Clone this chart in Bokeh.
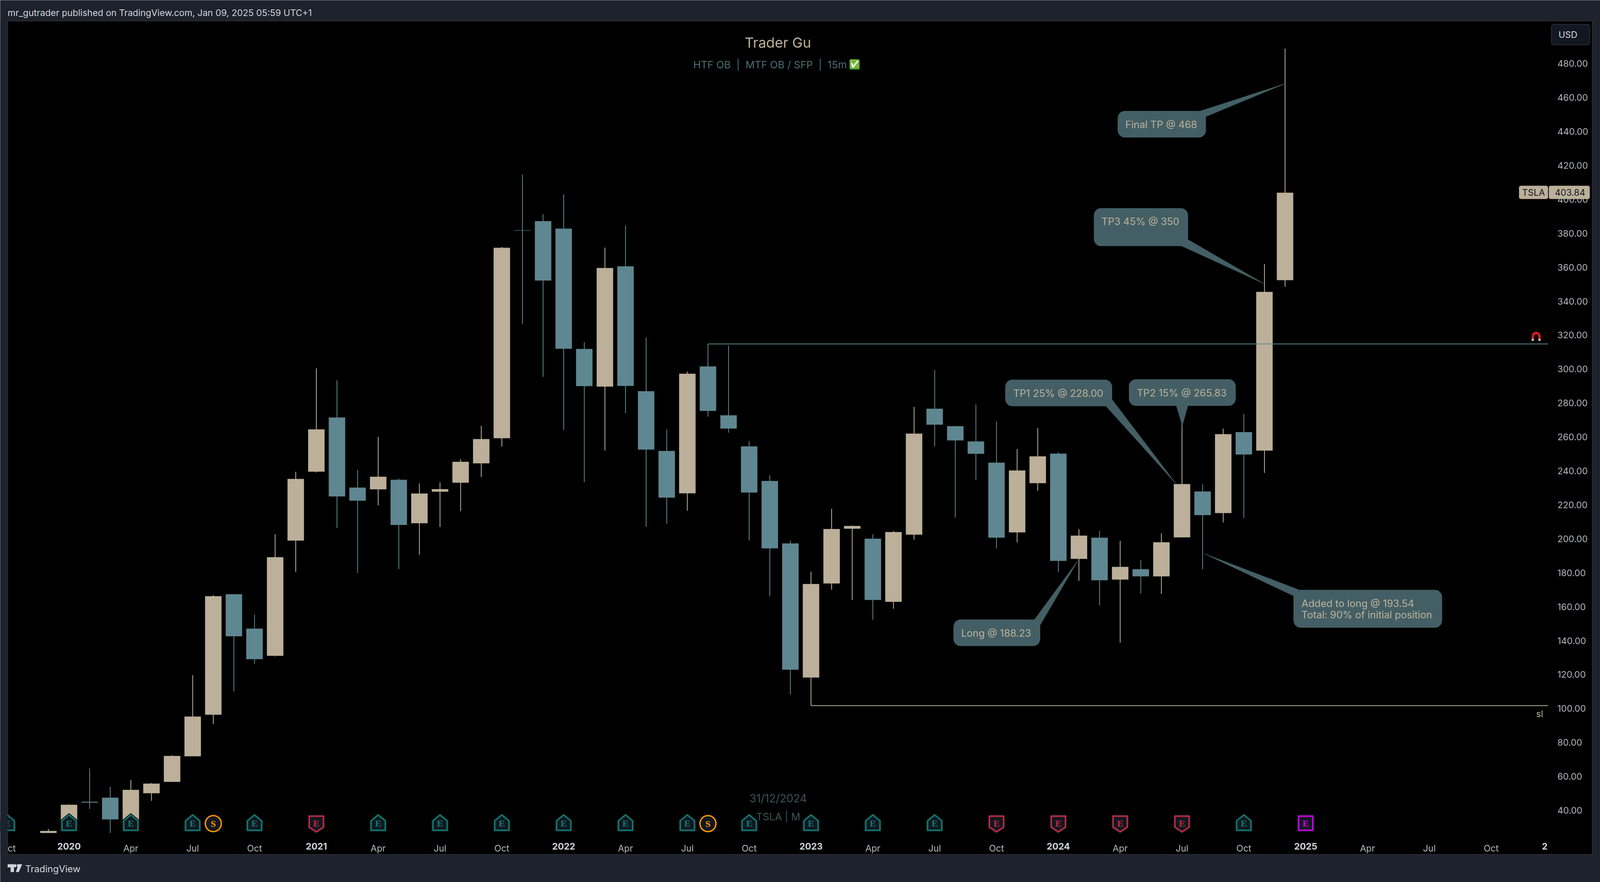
import math
from bokeh.plotting import figure
from bokeh.embed import file_html
from bokeh.resources import INLINE
from bokeh.models import Range1d, LinearAxis, FixedTicker, NumeralTickFormatter, Label, ColumnDataSource

# ---------- data (monthly TSLA, index 0 = Jan 2020) ----------
month_index = list(range(-1, 60))
opens = [26.7, 28.3, 45.0, 47.4, 33.4, 50.1, 56.8, 71.9, 96.4, 167.3, 147.0, 131.1, 199.0,
         239.6, 271.4, 230.1, 229.2, 234.7, 209.2, 227.8, 233.1, 244.5, 259.3, 381.7, 387.1,
         382.7, 311.8, 289.7, 360.5, 286.9, 251.7, 226.8, 301.5, 272.7, 254.4, 234.0, 197.2,
         118.3, 173.7, 206.0, 200.0, 162.9, 202.5, 276.6, 266.3, 257.3, 244.8, 203.8, 232.8,
         250.1, 188.2, 200.6, 176.0, 182.0, 177.9, 200.9, 227.8, 215.2, 262.8, 252.0, 352.4]
closes = [27.8, 43.2, 44.6, 34.7, 52.0, 55.7, 72.0, 95.2, 166.1, 142.6, 129.1, 189.1, 235.2,
          264.4, 225.0, 222.5, 236.5, 208.2, 226.6, 229.2, 245.3, 258.7, 371.4, 381.6, 352.2,
          312.0, 290.0, 359.5, 290.1, 252.6, 224.3, 297.2, 275.4, 265.0, 227.3, 194.4, 122.9,
          173.3, 205.7, 207.5, 164.0, 203.9, 261.9, 267.3, 258.0, 250.1, 200.7, 240.2, 248.5,
          187.0, 201.8, 175.6, 183.4, 177.9, 197.9, 232.2, 214.0, 261.6, 249.7, 345.4, 403.84]
highs = [29.0, 43.5, 64.7, 53.8, 58.0, 56.1, 72.5, 119.6, 166.8, 167.5, 155.3, 202.7, 239.5,
         300.4, 293.4, 240.5, 260.0, 235.4, 232.6, 233.3, 246.9, 266.5, 371.9, 414.7, 391.2,
         402.9, 315.9, 371.6, 384.6, 318.6, 264.4, 298.5, 314.7, 313.9, 257.5, 237.4, 199.0,
         180.6, 217.7, 207.8, 202.7, 204.6, 277.7, 299.4, 266.5, 279.1, 269.0, 252.9, 265.3,
         251.1, 205.7, 204.6, 198.8, 187.5, 203.2, 271.1, 232.0, 264.9, 273.6, 361.9, 488.8]
lows = [26.7, 28.1, 40.8, 26.7, 33.4, 45.6, 56.8, 71.9, 90.9, 110.1, 126.3, 130.7, 180.4,
        239.1, 206.4, 179.9, 219.7, 182.2, 190.5, 206.9, 216.3, 236.4, 254.4, 326.5, 295.4,
        264.1, 233.4, 252.0, 274.0, 207.1, 208.9, 216.5, 272.0, 262.5, 199.0, 166.2, 108.2,
        101.7, 170.0, 163.9, 152.3, 158.8, 199.5, 254.4, 212.4, 234.8, 194.3, 197.9, 228.3,
        180.3, 175.2, 160.7, 138.8, 167.7, 167.5, 200.9, 182.1, 209.6, 212.2, 238.8, 348.5]

price_ticks = [40, 60, 80, 100, 120, 140, 160, 180, 200, 220, 240, 260, 280, 300, 320, 340,
               360, 380, 400, 420, 440, 460, 480]
month_ticks = [-2.78, 3, 6, 9, 15, 18, 21, 27, 30, 33, 39, 42, 45, 51, 54, 57, 63, 66, 69]
month_labels = ["ct", "Apr", "Jul", "Oct", "Apr", "Jul", "Oct", "Apr", "Jul", "Oct", "Apr", "Jul",
                "Oct", "Apr", "Jul", "Oct", "Apr", "Jul", "Oct"]
year_ticks = [0, 12, 24, 36, 48, 60, 71.6]
year_labels = ["2020", "2021", "2022", "2023", "2024", "2025", "2"]

earn_green = [-3, 0, 3, 6, 9, 15, 18, 21, 24, 27, 30, 33, 36, 39, 42, 57]
earn_red = [12, 45, 48, 51, 54]
earn_next = [60]
split_bars = [7, 31]

level_high = 314.8
level_high_start = 31
level_sl = 101.7
level_sl_start = 36

# ---------- colours ----------
TAN = "#bcb09a"
TEAL = "#5f8791"
BUBBLE = "#435f65"
PANEL = "#1e222d"
GREY = "#b2b5be"
LIGHT = "#d1d4dc"
DARK = "#131722"
DIM = "#4b6d75"
DIM2 = "#3d5258"
GREEN = "#0b806f"
RED = "#c52b3e"
ORANGE = "#ff9800"
MAGENTA = "#d400f2"
FONT = "Inter"

# ---------- reference-pixel helpers (placement of annotations only) ----------
X0, XS = 184.8, 55.34
Y0, YS = 2074.0, 4.345


def X(px):
    return (px - X0) / XS


def Y(py):
    return 40 + (Y0 - py) / YS


def XP(i):
    return X0 + XS * i


def rounded(l, t, r, b, rad, n=6):
    pts = []
    for cx, cy, a0 in [(r - rad, t + rad, -90), (r - rad, b - rad, 0), (l + rad, b - rad, 90), (l + rad, t + rad, 180)]:
        for k in range(n + 1):
            a = math.radians(a0 + 90 * k / n)
            pts.append((cx + rad * math.cos(a), cy + rad * math.sin(a)))
    return pts


def to_data(pts):
    return [X(p[0]) for p in pts], [Y(p[1]) for p in pts]


PAGE_W, PAGE_H = 4096, 2258
p = figure(width=PAGE_W, height=PAGE_H, output_backend="svg", toolbar_location=None,
           x_range=Range1d(X(0), X(4296)), y_range=Range1d(Y(2258), Y(0)),
           x_axis_location=None, y_axis_location=None,
           min_border_left=0, min_border_right=0, min_border_top=0, min_border_bottom=0,
           background_fill_color=PANEL, border_fill_color=PANEL, outline_line_color=None)
p.grid.visible = False

# pane
p.quad(left=[X(20)], right=[X(4275)], top=[Y(53)], bottom=[Y(2187)], fill_color="#000000",
       line_color="#2a2e39", line_width=2, level="underlay")

# ---------- axes ----------
yaxis = LinearAxis(fixed_location=X(4156), ticker=FixedTicker(ticks=price_ticks),
                   formatter=NumeralTickFormatter(format="0.00"), axis_line_color=None,
                   major_tick_line_color=None, minor_tick_line_color=None,
                   major_label_standoff=18, major_label_text_color=GREY,
                   major_label_text_font=FONT, major_label_text_font_size="23px")
p.add_layout(yaxis, "right")

for ticks, labels, style, col in [(month_ticks, month_labels, "normal", GREY), (year_ticks, year_labels, "bold", LIGHT)]:
    ax = LinearAxis(fixed_location=Y(2147), ticker=FixedTicker(ticks=ticks),
                    major_label_overrides={t: s for t, s in zip(ticks, labels)},
                    axis_line_color=None, major_tick_line_color=None, minor_tick_line_color=None,
                    major_label_standoff=4, major_label_text_color=col, major_label_text_font=FONT,
                    major_label_text_font_style=style, major_label_text_font_size="23px")
    p.add_layout(ax, "below")

# ---------- candles ----------
colors = [TAN if c >= o else TEAL for o, c in zip(opens, closes)]
src = ColumnDataSource(dict(x=month_index, o=opens, c=closes, h=highs, l=lows, col=colors,
                            top=[max(a, b) for a, b in zip(opens, closes)],
                            bot=[min(a, b) for a, b in zip(opens, closes)]))
p.segment("x", "l", "x", "h", source=src, line_color="col", line_width=2)
p.vbar("x", 0.79, "bot", "top", source=src, fill_color="col", line_color="col", line_width=0.5)

# ---------- levels ----------
pane_right = X(4156)
p.line([level_high_start, pane_right], [level_high, level_high], line_color=TEAL, line_width=2)
p.line([level_sl_start, pane_right], [level_sl, level_sl], line_color=TAN, line_width=2)

# ---------- callouts ----------
# box (l, t, r, b), tail (a, b, tip), texts (left, centre y, string)
callouts = [
    ((3001, 284, 3237, 351), [(3222, 284), (3449, 214), (3237, 298)], [(3021, 317.5, "Final TP @ 468")]),
    ((2937, 533, 3189, 629), [(3189, 613), (3392, 725), (3172, 629)], [(2957, 566, "TP3 45% @ 350")]),
    ((2699, 972, 2985, 1039), [(2985, 1022), (3158, 1239), (2969, 1039)], [(2720, 1005.5, "TP1 25% @ 228.00")]),
    ((3031, 971, 3317, 1038), [(3158, 1038), (3174, 1089), (3189, 1038)], [(3052, 1004.5, "TP2 15% @ 265.83")]),
    ((2560, 1586, 2792, 1653), [(2777, 1586), (2894, 1434), (2792, 1600)], [(2580, 1619.5, "Long @ 188.23")]),
    ((3473, 1510, 3871, 1606), [(3488, 1510), (3233, 1417), (3473, 1525)],
     [(3494, 1544, "Added to long @ 193.54"), (3494, 1572.5, "Total: 90% of initial position")]),
]
for box, tail, texts in callouts:
    bx, by = to_data(rounded(*box, 18))
    tx, ty = to_data(tail)
    p.patches([bx, tx], [by, ty], fill_color=BUBBLE, line_color=BUBBLE, line_width=1, level="annotation")
    for tl, tc, s in texts:
        p.add_layout(Label(x=X(tl), y=Y(tc), text=s, text_color=TAN, text_font=FONT, text_font_size="25.5px",
                           text_baseline="middle", text_align="left", level="annotation"))

# ---------- earnings / split badges ----------
up_shape = [(-19, 2125), (-19, 2101), (0, 2086), (19, 2101), (19, 2125)]
down_shape = [(-19, 2089), (19, 2089), (19, 2117), (0, 2129), (-19, 2117)]
rect_shape = [(-19, 2089), (19, 2089), (19, 2125), (-19, 2125)]


def badges(indices, shape, color, letter="E"):
    xs = [[X(XP(i) + d[0]) for d in shape] for i in indices]
    ys = [[Y(d[1]) for d in shape] for i in indices]
    p.patches(xs, ys, fill_color=DARK, line_color=DARK, line_width=8, line_join="round")
    p.patches(xs, ys, fill_color=DARK, line_color=color, line_width=3.5, line_join="round")
    p.text(indices, [Y(2107)] * len(indices), text=[letter] * len(indices), text_color=color,
           text_font=FONT, text_font_style="bold", text_font_size="24px",
           text_align="center", text_baseline="middle")


badges(earn_green, up_shape, GREEN)
badges(earn_red, down_shape, RED)
badges(earn_next, rect_shape, MAGENTA)
p.scatter(split_bars, [Y(2108)] * 2, marker="circle", size=41, fill_color=DARK, line_color=ORANGE, line_width=3.5)
p.text(split_bars, [Y(2108)] * 2, text=["S", "S"], text_color=ORANGE, text_font=FONT, text_font_style="bold",
       text_font_size="24px", text_align="center", text_baseline="middle")

# left strip hides what spills over the pane edge
p.quad(left=[X(0)], right=[X(19)], top=[Y(53)], bottom=[Y(2187)], fill_color=PANEL, line_color=None)

# ---------- last price tag ----------
for box in [(4078, 475, 4156, 509), (4158, 475, 4268, 509)]:
    bx, by = to_data(rounded(*box, 5))
    p.patch(bx, by, fill_color=TAN, line_color=None, level="overlay")
p.add_layout(Label(x=X(4117), y=Y(492), text="TSLA", text_color=DARK, text_font=FONT, text_font_size="23px",
                   text_align="center", text_baseline="middle", level="overlay"))
p.add_layout(Label(x=X(4215), y=Y(492), text="403.84", text_color=DARK, text_font=FONT, text_font_size="23px",
                   text_align="center", text_baseline="middle", level="overlay"))

# USD button
bx, by = to_data(rounded(4165, 62, 4268, 114, 7))
p.patch(bx, by, fill_color=DARK, line_color="#2a2e39", line_width=2, level="overlay")
p.add_layout(Label(x=X(4184), y=Y(88), text="USD", text_color=LIGHT, text_font=FONT, text_font_size="23px",
                   text_align="left", text_baseline="middle", level="overlay"))

# magnet
pts = []
for k in range(0, 19):
    a = math.radians(180 + k * 10)
    pts.append((4124 + 12 * math.cos(a), 861 + 12 * math.sin(a)))
pts += [(4136, 872), (4130, 872)]
for k in range(18, -1, -1):
    a = math.radians(180 + k * 10)
    pts.append((4124 + 6 * math.cos(a), 861 + 6 * math.sin(a)))
pts += [(4118, 872), (4112, 872)]
mx, my = to_data(pts)
p.patch(mx, my, fill_color="#dc2020", line_color=None)
for l in (4112, 4130):
    tx, ty = to_data([(l, 867), (l + 6, 867), (l + 6, 872), (l, 872)])
    p.patch(tx, ty, fill_color="#c8c8c8", line_color=None)

# ---------- texts ----------
def label(px, py, s, color, size, align="left", style="normal", weight_font=FONT):
    p.add_layout(Label(x=X(px), y=Y(py), text=s, text_color=color, text_font=weight_font, text_font_size=size,
                       text_align=align, text_baseline="middle", text_font_style=style))


label(2088, 108, "Trader Gu", TAN, "36px", "center")
label(1861, 165, "HTF OB \u00a0|\u00a0 MTF OB / SFP \u00a0|\u00a0 15m", DIM, "26px")
bx, by = to_data(rounded(2280, 151, 2308, 178, 4))
p.patch(bx, by, fill_color="#0a8a0a", line_color=None)
label(2294, 164, "\u2705", "#e8f0e8", "22px", "center", weight_font="DejaVu Sans")
label(2089, 2043, "31/12/2024", DIM2, "28px", "center")
label(2089, 2090, "TSLA | M", DIM2, "26px", "center")
label(4124, 1827, "sl", TAN, "23px")
label(20, 32, "mr_gutrader published on TradingView.com, Jan 09, 2025 05:59 UTC+1", LIGHT, "23px")
label(67, 2224, "TradingView", LIGHT, "24px", style="normal")

# logo
for poly in ([(20, 2212), (37, 2212), (37, 2232), (28, 2232), (28, 2220), (20, 2220)],
             [(45, 2212), (59, 2212), (50, 2232), (42, 2232), (46, 2221)],
             [(40 + 4 * math.cos(a / 6 * math.pi), 2216 + 4 * math.sin(a / 6 * math.pi)) for a in range(12)]):
    lx, ly = to_data(poly)
    p.patch(lx, ly, fill_color=LIGHT, line_color=None)

open("out.html", "w").write(file_html(p, INLINE))
